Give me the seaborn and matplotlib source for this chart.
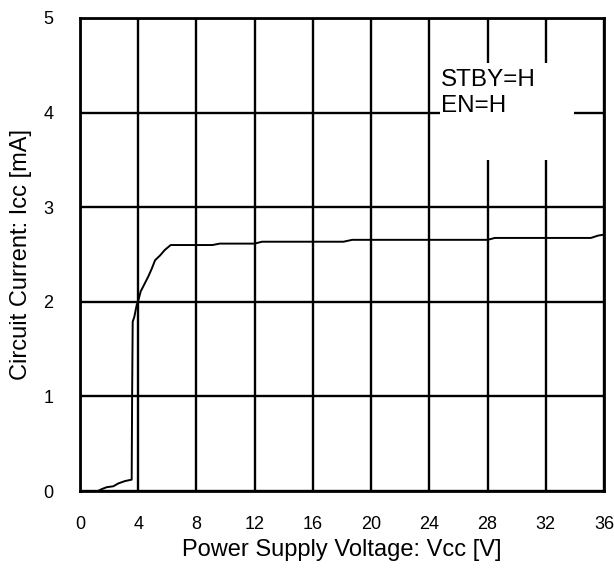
import numpy as np
import pandas as pd
import matplotlib
matplotlib.use('Agg')
import matplotlib.pyplot as plt
import seaborn as sns
from matplotlib.patches import Rectangle

# Circuit current vs supply voltage
vcc = [0, 1.24, 1.49, 1.83, 2.29, 2.63, 3.09, 3.55, 3.58, 3.62, 3.73, 3.9, 4.0,
       4.17, 4.47, 4.7, 4.93, 5.16, 5.5, 5.84, 6.23, 9.1, 9.6, 12.0, 12.5,
       18.1, 18.7, 28.0, 28.5, 35.1, 35.6, 36.0]
icc = [0, 0, 0.02, 0.04, 0.05, 0.08, 0.105, 0.12, 1.0, 1.79, 1.84, 1.97, 2.01,
       2.11, 2.2, 2.27, 2.35, 2.44, 2.49, 2.55, 2.60, 2.60, 2.615, 2.615, 2.635,
       2.635, 2.655, 2.655, 2.675, 2.675, 2.70, 2.71]

x_ticks = [0, 4, 8, 12, 16, 20, 24, 28, 32, 36]
y_ticks = [0, 1, 2, 3, 4, 5]
conditions = ['STBY=H', 'EN=H']

df = pd.DataFrame({'Vcc': vcc, 'Icc': icc})

sns.set_style('white', {'text.color': 'black', 'axes.labelcolor': 'black',
                        'xtick.color': 'black', 'ytick.color': 'black'})
plt.rcParams['font.family'] = ['Liberation Sans', 'DejaVu Sans']

fig = plt.figure(figsize=(6.14, 5.71), dpi=100)
ax = fig.add_axes([0.1303, 0.1401, 0.8534, 0.8284])

sns.lineplot(data=df, x='Vcc', y='Icc', color='black', linewidth=1.4,
             ax=ax, zorder=5, sort=False)

ax.set_xlim(0, 36)
ax.set_ylim(0, 5)
ax.set_xticks(x_ticks)
ax.set_yticks(y_ticks)
ax.grid(True, color='black', linewidth=1.7)
ax.set_axisbelow(True)
for s in ax.spines.values():
    s.set_color('black')
    s.set_linewidth(2)
    s.set_zorder(6)

ax.tick_params(length=0, labelsize=13, labelcolor='black')
ax.tick_params(axis='x', pad=18)
ax.tick_params(axis='y', pad=19)

ax.set_xlabel('Power Supply Voltage: V\u1d04\u1d04 [V]', fontsize=17, labelpad=4,
              color='black')
ax.set_ylabel('Circuit Current: I\u1d04\u1d04 [mA]', fontsize=17, labelpad=8,
              color='black')

# white patch behind the condition text, cuts the grid lines
ax.add_patch(Rectangle((24.73, 3.50), 9.21, 1.024, facecolor='white',
                       edgecolor='none', zorder=3))
ax.text(24.8, 4.46, '\n'.join(conditions), fontsize=17.5, va='top', ha='left',
        linespacing=1.23, color='black', zorder=4)

fig.savefig('out.png', dpi=100)
